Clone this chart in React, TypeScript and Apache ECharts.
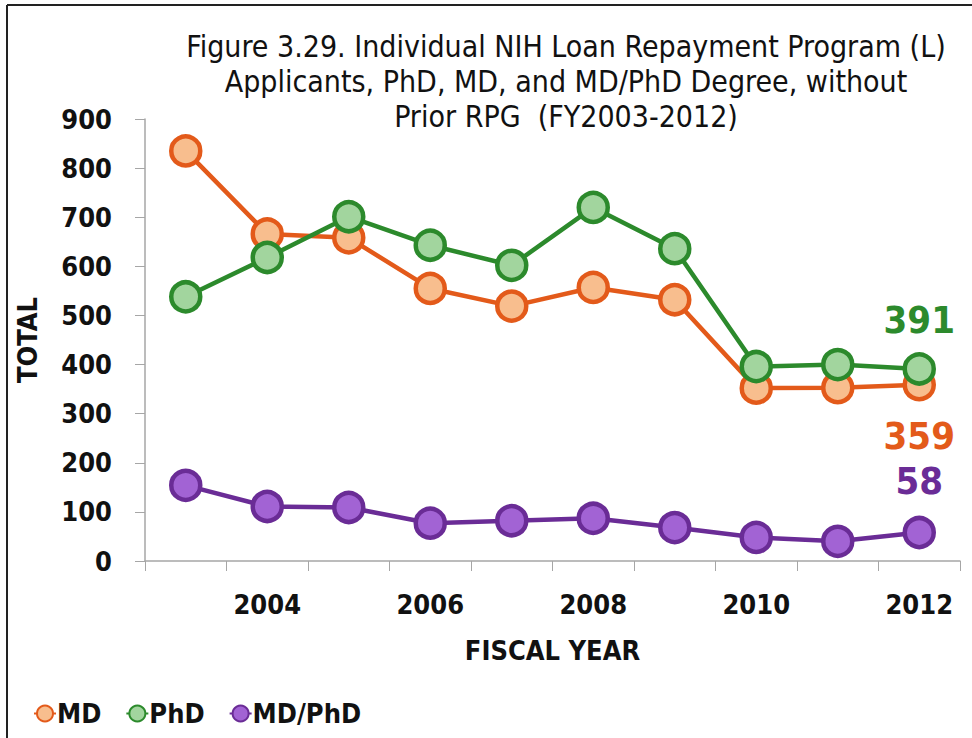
import React, { useEffect, useRef } from "react";
import * as echarts from "echarts";

const years = ["2003", "2004", "2005", "2006", "2007", "2008", "2009", "2010", "2011", "2012"];
const mdValues = [835, 666, 658, 555, 519, 557, 532, 352, 353, 359];
const phdValues = [538, 618, 701, 643, 602, 720, 636, 396, 400, 391];
const mdPhdValues = [154, 111, 109, 77, 82, 87, 68, 48, 40, 58];
const yTicks = [0, 100, 200, 300, 400, 500, 600, 700, 800, 900];

const FONT = "'Liberation Sans Narrow', 'DejaVu Sans Condensed', 'Liberation Sans', sans-serif";

const seriesDefs = [
  { name: "MD", values: mdValues, line: "#E35A1A", fill: "#F8BE8E", labelPos: "bottom", labelDist: 16 },
  { name: "PhD", values: phdValues, line: "#2C8A2C", fill: "#A2D59E", labelPos: "top", labelDist: 13 },
  { name: "MD/PhD", values: mdPhdValues, line: "#6A2C96", fill: "#A263D4", labelPos: "top", labelDist: 16 },
];

export default function App() {
  const ref = useRef<HTMLDivElement>(null);
  useEffect(() => {
    document.body.style.margin = "0";
    const chart = echarts.init(ref.current!, null, { renderer: "svg" });
    chart.setOption({
      animation: false,
      backgroundColor: "#ffffff",
      title: {
        text: "Figure 3.29. Individual NIH Loan Repayment Program (L)\nApplicants, PhD, MD, and MD/PhD Degree, without\nPrior RPG  (FY2003-2012)",
        left: 561,
        top: 24,
        textAlign: "center",
        textStyle: { fontFamily: FONT, fontSize: 30, fontWeight: "normal", color: "#111", lineHeight: 35 },
      },
      graphic: [
        { type: "line", shape: { x1: 7, y1: 5, x2: 972, y2: 5 }, style: { stroke: "#222", lineWidth: 2 } },
        { type: "line", shape: { x1: 7, y1: 5, x2: 7, y2: 738 }, style: { stroke: "#222", lineWidth: 2 } },
      ],
      legend: {
        left: 28,
        top: 695,
        itemWidth: 22,
        itemHeight: 20,
        itemGap: 24,
        textStyle: { fontFamily: FONT, fontSize: 27, fontWeight: "bold", color: "#111", padding: [0, 0, 0, -4] },
        data: seriesDefs.map((s) => s.name),
      },
      grid: { left: 145, right: 12, top: 119, bottom: 177, containLabel: false },
      xAxis: {
        type: "category",
        data: years,
        boundaryGap: true,
        name: "FISCAL YEAR",
        nameLocation: "middle",
        nameGap: 76,
        nameTextStyle: { fontFamily: FONT, fontSize: 27, fontWeight: "bold", color: "#111" },
        axisLine: { lineStyle: { color: "#A6A6A6", width: 1.5 } },
        axisTick: { show: true, interval: 0, length: 10, lineStyle: { color: "#A6A6A6" } },
        axisLabel: {
          interval: (i: number) => i % 2 === 1,
          margin: 30,
          fontFamily: FONT,
          fontSize: 27,
          fontWeight: "bold",
          color: "#111",
        },
      },
      yAxis: {
        type: "value",
        min: yTicks[0],
        max: yTicks[yTicks.length - 1],
        interval: 100,
        name: "TOTAL",
        nameLocation: "middle",
        nameGap: 104,
        nameRotate: 90,
        nameTextStyle: { fontFamily: FONT, fontSize: 27, fontWeight: "bold", color: "#111" },
        axisLine: { show: true, lineStyle: { color: "#A6A6A6", width: 1.5 } },
        axisTick: { show: true, length: 10, lineStyle: { color: "#A6A6A6" } },
        splitLine: { show: false },
        axisLabel: { margin: 33, fontFamily: FONT, fontSize: 27, fontWeight: "bold", color: "#111" },
      },
      series: seriesDefs.map((s) => ({
        name: s.name,
        type: "line",
        symbol: "circle",
        symbolSize: 29,
        lineStyle: { color: s.line, width: 4.5 },
        itemStyle: { color: s.fill, borderColor: s.line, borderWidth: 4.5 },
        data: s.values.map((v, i) =>
          i === s.values.length - 1
            ? {
                value: v,
                label: {
                  show: true,
                  position: s.labelPos,
                  distance: s.labelDist,
                  formatter: String(v),
                  fontFamily: FONT,
                  fontSize: 38,
                  fontWeight: "bold",
                  color: s.line,
                },
              }
            : v
        ),
      })),
    });
    return () => chart.dispose();
  }, []);
  return <div ref={ref} style={{ width: 972, height: 738 }} />;
}
